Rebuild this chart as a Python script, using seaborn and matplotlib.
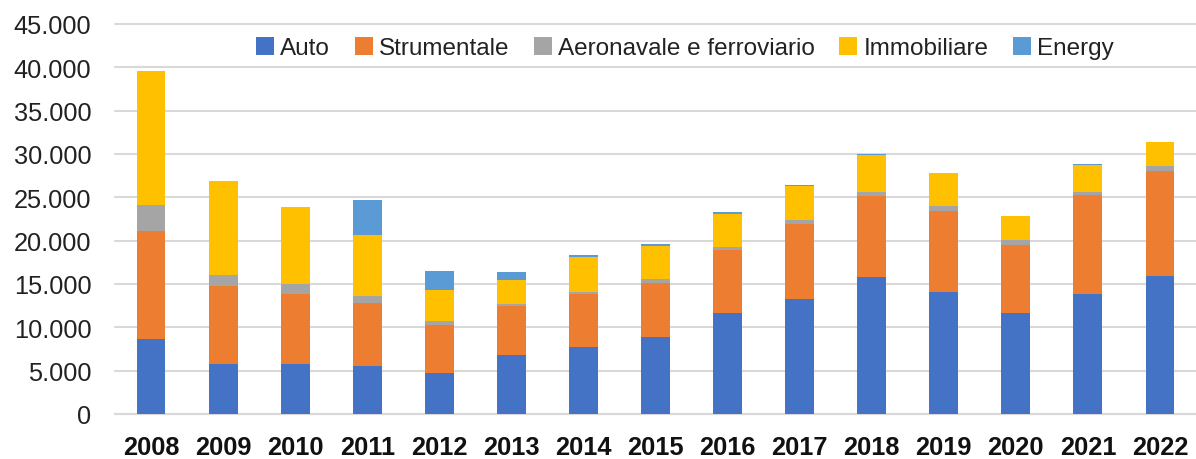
import matplotlib
matplotlib.use("Agg")
import matplotlib.pyplot as plt
import seaborn as sns
import pandas as pd
import numpy as np
from matplotlib.patches import Patch
from matplotlib.ticker import FuncFormatter, MultipleLocator

years = [str(y) for y in range(2008, 2023)]
series_names = ["Auto", "Strumentale", "Aeronavale e ferroviario", "Immobiliare", "Energy"]
auto = [8650, 5770, 5770, 5580, 4730, 6770, 7690, 8850, 11650, 13270, 15850, 14080, 11690, 13880, 15880]
strumentale = [12500, 8960, 8110, 7270, 5570, 5650, 6120, 6300, 7310, 8650, 9300, 9340, 7810, 11420, 12200]
aeronavale = [3000, 1350, 1080, 800, 390, 270, 270, 390, 310, 500, 500, 540, 540, 320, 500]
immobiliare = [15450, 10820, 8920, 7040, 3610, 2810, 4000, 3840, 3840, 3890, 4200, 3890, 2810, 3070, 2840]
energy = [0, 0, 0, 4000, 2200, 880, 300, 200, 160, 100, 110, 0, 0, 100, 0]
colors = ["#4472C4", "#ED7D31", "#A5A5A5", "#FFC000", "#5B9BD5"]

values = [auto, strumentale, aeronavale, immobiliare, energy]

sns.set_theme(style="white")
plt.rcParams["font.family"] = ["Liberation Sans", "DejaVu Sans"]

fig = plt.figure(figsize=(11.96, 4.6), dpi=100)
ax = fig.add_axes([115 / 1196, 1 - 415 / 460, 1 - 115 / 1196, 390 / 460])

bottom = np.zeros(len(years))
for name, vals, col in zip(series_names, values, colors):
    df = pd.DataFrame({"Anno": years, "Valore": vals})
    sns.barplot(data=df, x="Anno", y="Valore", order=years, color=col,
                bottom=bottom, width=0.4, errorbar=None, ax=ax,
                saturation=1, linewidth=0, zorder=3)
    bottom = bottom + np.array(vals)

ax.set_ylim(0, 45000)
ax.set_xlim(-0.5, len(years) - 0.5)
ax.yaxis.set_major_locator(MultipleLocator(5000))
ax.yaxis.set_major_formatter(FuncFormatter(lambda v, p: f"{int(v):,}".replace(",", ".")))
ax.grid(axis="y", color="#D9D9D9", linewidth=1.5, zorder=0, clip_on=False)
for gl in ax.get_ygridlines():
    gl.set_clip_on(False)
ax.set_axisbelow(True)
for s in ["top", "right", "left"]:
    ax.spines[s].set_visible(False)
ax.spines["bottom"].set_color("#D9D9D9")
ax.spines["bottom"].set_linewidth(1.5)
ax.set_xlabel("")
ax.set_ylabel("")
ax.tick_params(axis="y", labelsize=18.3, pad=17, length=0, labelcolor="#222222")
ax.tick_params(axis="x", labelsize=18.3, pad=15, length=0, labelcolor="#111111")
for lab in ax.get_xticklabels():
    lab.set_fontweight("bold")

handles = [Patch(facecolor=c, edgecolor="none") for c in colors]
fig.legend(handles, series_names, loc="center", bbox_to_anchor=(685 / 1196, 1 - 49 / 460),
           ncol=5, frameon=False, fontsize=17.5, handlelength=0.75, handleheight=0.75,
           handletextpad=0.25, columnspacing=1.0, labelcolor="#222222")

fig.savefig("out.png", dpi=100)
